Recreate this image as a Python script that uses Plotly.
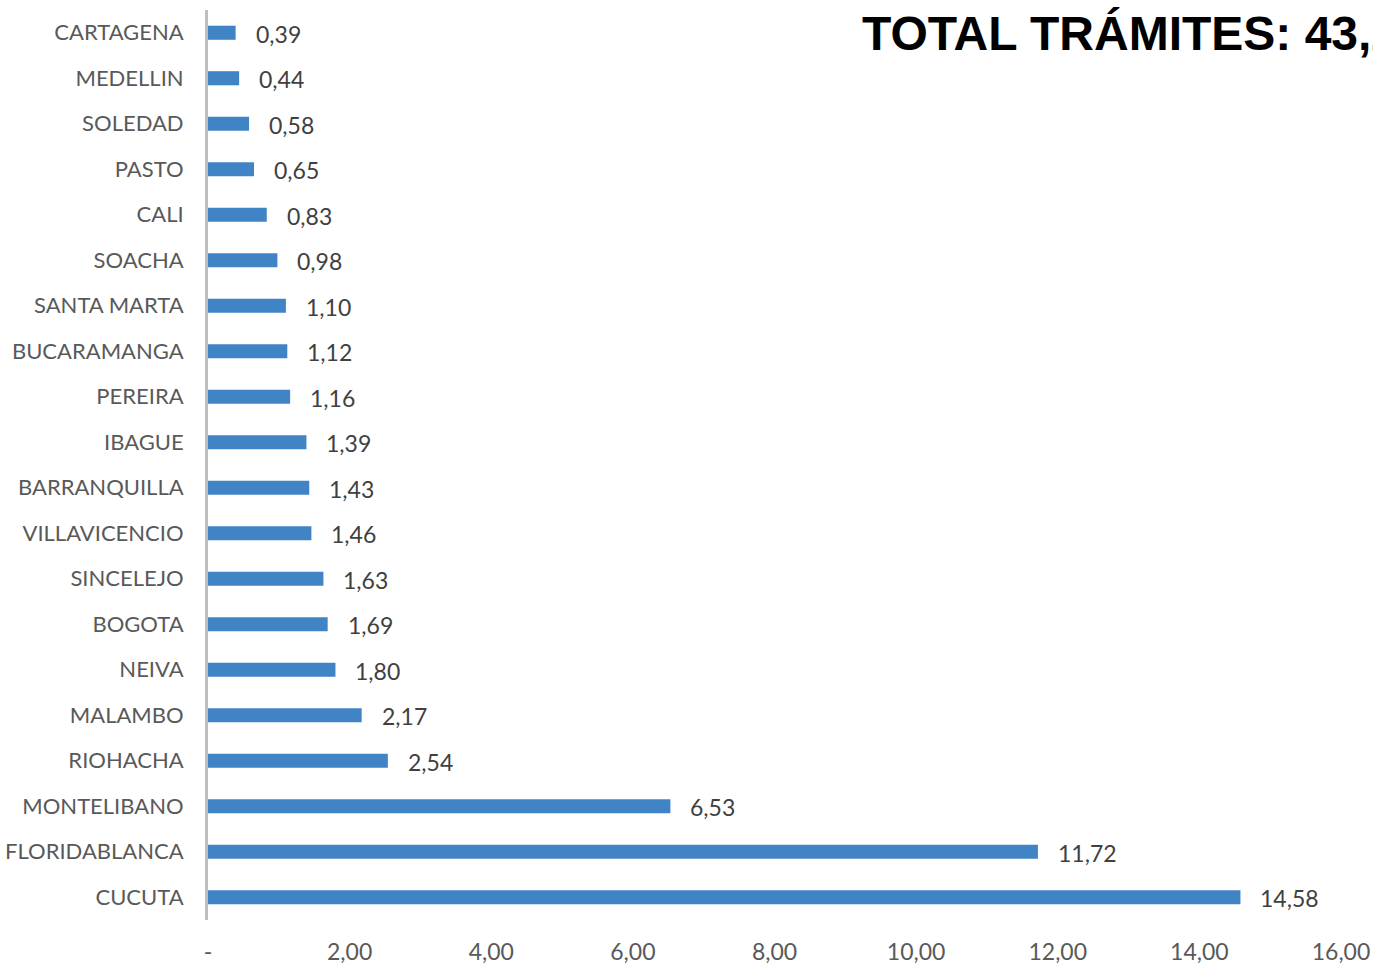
import plotly.graph_objects as go

# Trámites por ciudad (valores en miles)
ciudades = ["CARTAGENA", "MEDELLIN", "SOLEDAD", "PASTO", "CALI", "SOACHA",
            "SANTA MARTA", "BUCARAMANGA", "PEREIRA", "IBAGUE", "BARRANQUILLA",
            "VILLAVICENCIO", "SINCELEJO", "BOGOTA", "NEIVA", "MALAMBO",
            "RIOHACHA", "MONTELIBANO", "FLORIDABLANCA", "CUCUTA"]
valores = [0.39, 0.44, 0.58, 0.65, 0.83, 0.98, 1.10, 1.12, 1.16, 1.39, 1.43,
           1.46, 1.63, 1.69, 1.80, 2.17, 2.54, 6.53, 11.72, 14.58]
ticks_x = [0, 2, 4, 6, 8, 10, 12, 14, 16]
ticks_x_txt = ["-", "2,00", "4,00", "6,00", "8,00", "10,00", "12,00", "14,00", "16,00"]
titulo = "TOTAL TRÁMITES: 43,2"

def fmt(v):
    return f"{v:.2f}".replace(".", ",")

fig = go.Figure(go.Bar(
    x=valores, y=ciudades, orientation="h",
    marker=dict(color="#4084C6", line=dict(width=0)),
    width=0.31,
))

for c, v in zip(ciudades, valores):
    fig.add_annotation(x=v, y=c, text=fmt(v), showarrow=False,
                       xanchor="left", yanchor="middle", xshift=18, yshift=-1,
                       font=dict(family="Lato", size=23, color="#404040"))

fig.add_annotation(xref="x domain", yref="y domain",
                   x=(860 - 208) / (1341 - 208), y=1 - (33 - 10) / 910,
                   text="<b>" + titulo + "</b>",
                   showarrow=False, xanchor="left", yanchor="middle",
                   font=dict(family="Liberation Sans", size=48, color="#000000"))

fig.update_layout(
    width=1373, height=965,
    margin=dict(l=208, r=32, t=10, b=45, autoexpand=False),
    plot_bgcolor="white", paper_bgcolor="white",
    showlegend=False,
    font=dict(family="Lato", color="#595959"),
    xaxis=dict(range=[0, 16], tickvals=ticks_x, ticktext=ticks_x_txt,
               showgrid=False, zeroline=False, showline=False,
               ticks="", ticklabelstandoff=16, automargin=False,
               tickfont=dict(family="Lato", size=23, color="#595959")),
    yaxis=dict(categoryorder="array", categoryarray=ciudades[::-1],
               showgrid=False, zeroline=False, showline=True,
               linecolor="#BFBFBF", linewidth=3, ticks="",
               ticklabelstandoff=17, automargin=False,
               tickfont=dict(family="Lato", size=22, color="#595959")),
)

fig.write_html("out.html")
